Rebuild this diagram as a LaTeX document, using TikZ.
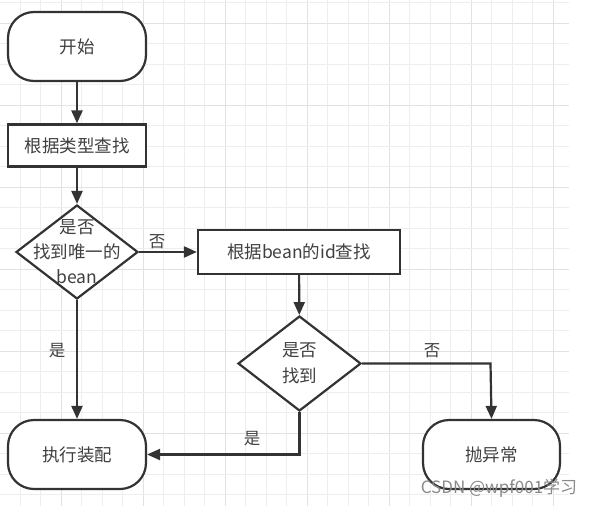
\documentclass[tikz,border=0pt]{standalone}
\usepackage{fontspec}
\setmainfont{Noto Sans CJK SC}
\usetikzlibrary{arrows.meta,shapes.geometric}
\definecolor{lineC}{HTML}{333333}
\definecolor{textC}{HTML}{404040}
\definecolor{gridMinor}{HTML}{EEEEEE}
\definecolor{gridMajor}{HTML}{E2E2E2}
\definecolor{wmC}{HTML}{8A8A8A}
\tikzset{
  base/.style={draw=lineC, line width=2.2pt, fill=white, text=textC, font=\fontsize{17.5}{25}\selectfont, inner sep=0pt},
  term/.style={base, rounded corners=26pt, minimum width=138pt, minimum height=69pt},
  proc/.style={base, minimum height=42pt},
  dia/.style={base, diamond, minimum width=122pt, minimum height=94pt},
  conn/.style={draw=lineC, line width=2.2pt, -{Triangle[length=13pt,width=11pt]}},
  lab/.style={text=textC, font=\fontsize{16.5}{18}\selectfont, inner sep=0pt},
}
\begin{document}
\begin{tikzpicture}[x=1pt,y=-1pt]
\useasboundingbox (0,0) rectangle (593,506);
\fill[white] (0,0) rectangle (593,506);
% grid
\foreach \k in {0,...,27} {
  \pgfmathsetmacro{\gx}{-0.5+20.5*\k}
  \pgfmathtruncatemacro{\m}{mod(\k,4)}
  \ifnum\m=3
    \draw[gridMajor, line width=1pt] (\gx,0) -- (\gx,506);
  \else
    \draw[gridMinor, line width=1pt] (\gx,0) -- (\gx,506);
  \fi
}
\foreach \k in {0,...,24} {
  \pgfmathsetmacro{\gy}{2.5+20.5*\k}
  \pgfmathtruncatemacro{\m}{mod(\k,4)}
  \ifnum\m=1
    \draw[gridMajor, line width=1pt] (0,\gy) -- (569,\gy);
  \else
    \draw[gridMinor, line width=1pt] (0,\gy) -- (569,\gy);
  \fi
}
% nodes
\node[term] (start) at (77,46.5) {开始};
\node[proc, minimum width=138pt] (find1) at (77,145.5) {根据类型查找};
\node[dia, label={[lab, font=\fontsize{17.5}{25}\selectfont, align=center]center:是否\\找到唯一的\\bean}] (d1) at (77,252) {};
\node[proc, minimum width=202pt, minimum height=44pt] (find2) at (299,252) {根据bean的id查找};
\node[dia, minimum width=123pt, minimum height=95pt, label={[lab, font=\fontsize{17.5}{26}\selectfont, align=center]center:是否\\找到}] (d2) at (299.5,363.5) {};
\node[term] (exec) at (77,454.5) {执行装配};
\node[term, minimum width=137pt] (throw) at (491.5,454.5) {抛异常};
\coordinate (c1) at (490.5,363.5);
\coordinate (c2) at (299.5,454.5);
% connectors
\draw[conn] (start) -- (find1);
\draw[conn] (find1) -- (d1);
\draw[conn] (d1.east) -- (find2.west);
\draw[conn] (find2) -- (d2);
\draw[conn] (d1.south) -- (exec.north);
\draw[conn] (d2.east) -- (c1) -- (throw.north);
\draw[conn] (d2.south) -- (c2) -- (exec.east);
% labels
\node[lab] (l1) at (157,242) {否};
\node[lab] (l2) at (57,351) {是};
\node[lab] (l3) at (432,351) {否};
\node[lab] (l4) at (252,439) {是};
% watermark
\node[text=wmC, font=\fontsize{17}{18}\selectfont, inner sep=0pt] (wm) at (499,488) {CSDN @wpf001学习};
\end{tikzpicture}
\end{document}
